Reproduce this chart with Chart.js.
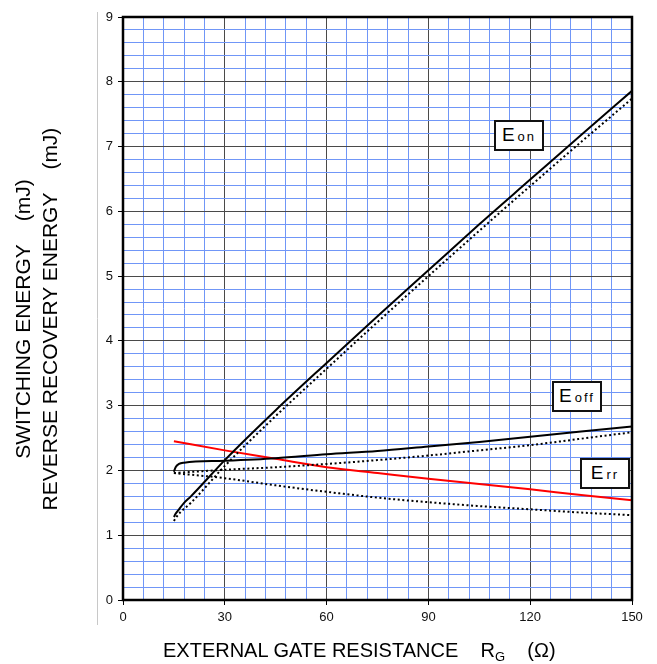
<!DOCTYPE html>
<html>
<head>
<meta charset="utf-8">
<script src="https://cdn.jsdelivr.net/npm/chart.js@4.4.1/dist/chart.umd.min.js"></script>
<style>
  html, body { margin: 0; padding: 0; background: #fff; }
  #wrap { position: relative; width: 657px; height: 664px; font-family: "Liberation Sans", Arial, sans-serif; color: #000; }
  #chart { position: absolute; left: 0; top: 0; }
  .tag { position: absolute; box-sizing: border-box; border: 2px solid #111; background: #fff;
         height: 31px; width: 50px; display: flex; align-items: center; justify-content: center; }
  .tag .in { line-height: 20px; white-space: nowrap; }
  .tag .big { font-size: 19px; }
  .tag .sub { font-size: 13px; letter-spacing: 2px; margin-left: 3px; }
  #ytitle { position: absolute; left: -173px; top: 291px; width: 420px; height: 56px; text-align: center;
            transform: rotate(-90deg); font-size: 21px; line-height: 27px; white-space: pre; }
  #xtitle { position: absolute; left: 163px; top: 638px; font-size: 20px; line-height: 24px; white-space: pre; }
  #xtitle sub { font-size: 13px; vertical-align: -4px; line-height: 0; }
</style>
</head>
<body>
<div id="wrap">
  <canvas id="chart" width="657" height="664"></canvas>
  <div id="ytitle">SWITCHING ENERGY    (mJ)
REVERSE RECOVERY ENERGY    (mJ)</div>
  <div id="xtitle">EXTERNAL GATE RESISTANCE    R<sub>G</sub>    (Ω)</div>
  <div class="tag" style="left:494px;top:120px;"><span class="in"><span class="big">E</span><span class="sub">on</span></span></div>
  <div class="tag" style="left:552px;top:381px;"><span class="in"><span class="big">E</span><span class="sub">off</span></span></div>
  <div class="tag" style="left:580px;top:458px;"><span class="in"><span class="big">E</span><span class="sub">rr</span></span></div>
</div>
<script>
// Rg (ohm) sample points and energies (mJ)
const eonRg      = [15, 15.5, 16.5, 18, 20, 30, 45, 60, 75, 90, 105, 120, 135, 150];
const eonSolid   = [1.28, 1.33, 1.40, 1.50, 1.60, 2.16, 2.93, 3.66, 4.38, 5.09, 5.80, 6.49, 7.18, 7.86];
const eonRgDot   = [15, 16, 17, 20, 30, 45, 60, 75, 90, 105, 120, 135, 150];
const eonDotted  = [1.22, 1.30, 1.36, 1.50, 2.07, 2.84, 3.57, 4.29, 5.00, 5.70, 6.39, 7.07, 7.74];

const offRg      = [15, 15.5, 16.5, 18, 30, 45, 60, 75, 90, 105, 120, 135, 150];
const eoffSolid  = [1.98, 2.05, 2.10, 2.12, 2.15, 2.19, 2.25, 2.30, 2.37, 2.44, 2.52, 2.60, 2.68];
const offRgDot   = [15, 30, 45, 60, 75, 90, 105, 120, 135, 150];
const eoffDotted = [1.96, 2.01, 2.05, 2.10, 2.16, 2.23, 2.31, 2.39, 2.49, 2.59];

const rrRg       = [15, 30, 45, 60, 75, 90, 105, 120, 135, 150];
const errSolid   = [2.45, 2.31, 2.18, 2.05, 1.96, 1.87, 1.79, 1.71, 1.62, 1.54];
const errDotted  = [1.96, 1.88, 1.77, 1.67, 1.58, 1.51, 1.45, 1.40, 1.35, 1.31];

const xMin = 0, xMax = 150, xStep = 6, xMajor = 30;
const yMin = 0, yMax = 9, yStep = 0.2;

const pts = (xs, ys) => xs.map((x, i) => ({ x: x, y: ys[i] }));
const isInt = v => Math.abs(v - Math.round(v)) < 1e-6;

const frame = {
  id: 'frame',
  beforeDraw(chart) {
    const c = chart.ctx;
    c.save();
    c.strokeStyle = '#c8c8c8'; c.lineWidth = 1;
    c.beginPath(); c.moveTo(97.5, 12); c.lineTo(97.5, 625); c.stroke();
    c.restore();
  },
  afterDatasetsDraw(chart) {
    const a = chart.chartArea, c = chart.ctx;
    c.save();
    c.strokeStyle = '#000'; c.lineWidth = 2.5;
    c.strokeRect(a.left, a.top, a.right - a.left, a.bottom - a.top);
    c.restore();
  }
};

function line(data, color, dotted) {
  return {
    data: data, borderColor: color, borderWidth: 2,
    borderDash: dotted ? [2, 2.6] : [], pointRadius: 0,
    cubicInterpolationMode: 'monotone', showLine: true, fill: false
  };
}

new Chart(document.getElementById('chart'), {
  type: 'scatter',
  data: {
    datasets: [
      line(pts(eonRgDot, eonDotted), '#000', true),
      line(pts(offRgDot, eoffDotted), '#000', true),
      line(pts(rrRg, errDotted), '#000', true),
      line(pts(eonRg, eonSolid), '#000', false),
      line(pts(offRg, eoffSolid), '#000', false),
      line(pts(rrRg, errSolid), '#ff0000', false)
    ]
  },
  options: {
    responsive: false, animation: false,
    layout: { padding: { left: 0, top: 17, right: 25, bottom: 0 } },
    plugins: { legend: { display: false }, tooltip: { enabled: false } },
    scales: {
      x: {
        type: 'linear', min: xMin, max: xMax,
        afterFit: s => { s.height = 64; },
        afterBuildTicks: s => { s.ticks = []; for (let v = xMin; v <= xMax; v += xStep) s.ticks.push({ value: v }); },
        ticks: { autoSkip: false, maxRotation: 0, padding: 5, color: '#111',
                 font: { family: 'Liberation Sans', size: 13 },
                 callback: v => (v % xMajor === 0 ? String(v) : '') },
        grid: {
          color: c => (c.tick && c.tick.value % xMajor === 0 ? '#4a4a4a' : '#7096f7'),
          lineWidth: 1, tickLength: 5,
          tickColor: c => (c.tick && c.tick.value % xMajor === 0 ? '#000' : 'rgba(0,0,0,0)')
        },
        border: { display: false }
      },
      y: {
        type: 'linear', min: yMin, max: yMax,
        afterFit: s => { s.width = 123; },
        afterBuildTicks: s => { s.ticks = []; for (let i = 0; i <= Math.round((yMax - yMin) / yStep); i++) s.ticks.push({ value: +(yMin + i * yStep).toFixed(1) }); },
        ticks: { autoSkip: false, padding: 5, color: '#111',
                 font: { family: 'Liberation Sans', size: 13 },
                 callback: v => (isInt(v) ? String(Math.round(v)) : '') },
        grid: {
          color: c => (c.tick && isInt(c.tick.value) ? '#4a4a4a' : '#7096f7'),
          lineWidth: 1, tickLength: 5,
          tickColor: c => (c.tick && isInt(c.tick.value) ? '#000' : 'rgba(0,0,0,0)')
        },
        border: { display: false }
      }
    }
  },
  plugins: [frame]
});
</script>
</body>
</html>
